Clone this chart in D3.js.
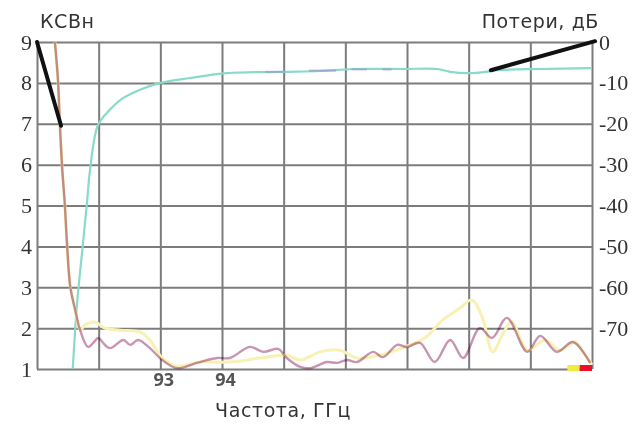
<!DOCTYPE html>
<html>
<head>
<meta charset="utf-8">
<script src="https://cdn.jsdelivr.net/npm/d3@7"></script>
<style>
  body { margin: 0; background: #fff; }
  svg { display: block; }
  .grid line { stroke: #7c7c7c; stroke-width: 2; }
  .grid path { display: none; }
  .tick-serif text { font-family: "Liberation Serif", "DejaVu Serif", serif; font-size: 22px; fill: #333; }
  .tick-x text { font-family: "Open Sans", sans-serif; font-weight: bold; font-size: 18px; fill: #555; }
  .title { font-family: "DejaVu Sans", sans-serif; font-size: 19px; letter-spacing: 0.6px; fill: #333; }
</style>
</head>
<body>
<script>
// frequency grid, GHz
const xTicks = [91, 92, 93, 94, 95, 96, 97, 98, 99, 100];
const xTickLabels = [93, 94];
const vswrTicks = [1, 2, 3, 4, 5, 6, 7, 8, 9];
const lossTicks = [0, -10, -20, -30, -40, -50, -60, -70];

// КСВн, main trace
const vswrFreq = [91.29, 91.34, 91.37, 91.41, 91.45, 91.49, 91.54, 91.62, 91.70, 91.83, 91.99, 92.02, 92.18, 92.40, 92.51, 92.64, 92.83, 93.03, 93.27, 93.59, 93.92, 94.13, 94.45, 94.67, 94.91, 95.05, 95.27, 95.43, 95.70, 95.87, 96.03, 96.19, 96.45, 96.61, 96.84, 97.00, 97.21, 97.45, 97.70, 97.91, 98.18, 98.38, 98.62, 98.95, 99.16, 99.43, 99.69, 99.97];
const vswr = [9.0, 8.07, 7.02, 5.87, 5.06, 3.98, 3.01, 2.44, 1.95, 1.54, 1.76, 1.73, 1.51, 1.71, 1.59, 1.71, 1.51, 1.22, 1.02, 1.15, 1.27, 1.27, 1.54, 1.42, 1.49, 1.27, 1.05, 1.02, 1.17, 1.15, 1.22, 1.17, 1.42, 1.29, 1.59, 1.54, 1.64, 1.17, 1.71, 1.27, 2.00, 1.76, 2.25, 1.42, 1.81, 1.42, 1.66, 1.15];

// КСВн, second (pale) trace
const vswr2Freq = [91.29, 91.34, 91.37, 91.41, 91.45, 91.49, 91.54, 91.62, 91.70, 91.78, 91.94, 92.10, 92.35, 92.67, 92.83, 93.03, 93.27, 93.64, 94.13, 94.62, 95.05, 95.27, 95.59, 95.91, 96.19, 96.56, 97.05, 97.29, 97.58, 97.86, 98.05, 98.22, 98.39, 98.56, 98.70, 98.95, 99.24, 99.48, 99.72, 99.89, 100.0];
const vswr2 = [9.0, 8.07, 7.02, 5.87, 5.06, 3.98, 3.01, 2.44, 1.95, 2.08, 2.15, 2.00, 1.95, 1.91, 1.71, 1.27, 1.07, 1.17, 1.17, 1.27, 1.34, 1.22, 1.42, 1.46, 1.27, 1.34, 1.59, 1.76, 2.20, 2.49, 2.69, 2.27, 1.42, 1.88, 2.15, 1.46, 1.71, 1.46, 1.66, 1.34, 1.10];

// Потери, дБ
const lossFreq = [91.58, 91.65, 91.73, 91.81, 91.86, 91.99, 92.18, 92.35, 92.67, 93.00, 93.48, 94.08, 94.99, 95.59, 96.12, 96.94, 97.49, 97.70, 98.02, 98.27, 98.46, 99.16, 100.0];
const loss = [-80, -63.9, -51.6, -39.4, -31.3, -20.3, -16.6, -14.2, -11.7, -10.0, -8.8, -7.6, -7.3, -7.1, -6.6, -6.6, -6.6, -7.3, -7.6, -7.3, -6.9, -6.6, -6.4];

// faint dashes riding on the loss trace
const dashRanges = [[94.70, 95.03], [95.41, 95.85], [96.10, 96.35], [96.60, 96.75]];
const dashLoss = [-7.3, -7.0, -6.7, -6.7];

// end markers on the frequency axis
const markerRanges = [[99.6, 99.8], [99.8, 100.0]];
const markerColors = ["#f2ea40", "#e8102a"];

const width = 635, height = 425;
const margin = { left: 37, right: 43, top: 42, bottom: 56 };

const svg = d3.select('body')
  .append('svg')
  .attr('width', width)
  .attr('height', height);

svg.append('rect').attr('width', width).attr('height', height).attr('fill', '#fff');

const x = d3.scaleLinear()
  .domain([91, 100])
  .range([margin.left, width - margin.right]);

const yL = d3.scaleLinear()
  .domain([1, 9])
  .range([height - margin.bottom, margin.top]);

const yR = d3.scaleLinear()
  .domain([-80, 0])
  .range([height - margin.bottom, margin.top]);

const plotH = yL.range()[0] - yL.range()[1];
const plotW = x.range()[1] - x.range()[0];

// vertical grid + x labels
svg.append('g')
  .attr('class', 'grid tick-x')
  .attr('transform', `translate(0,${yL(1)})`)
  .call(d3.axisBottom(x)
    .tickValues(xTicks)
    .tickSize(-plotH)
    .tickPadding(4)
    .tickFormat(d => xTickLabels.includes(d) ? String(d) : ''))
  .selectAll('text')
  .attr('dx', 3);

// horizontal grid + left labels
svg.append('g')
  .attr('class', 'grid tick-serif')
  .attr('transform', `translate(${x(91)},0)`)
  .call(d3.axisLeft(yL)
    .tickValues(vswrTicks)
    .tickSize(-plotW)
    .tickPadding(5)
    .tickFormat(d => String(d)));

// right labels
const rightAxis = svg.append('g')
  .attr('class', 'tick-serif')
  .attr('transform', `translate(${x(100)},0)`)
  .call(d3.axisRight(yR)
    .tickValues(lossTicks)
    .tickSize(0)
    .tickPadding(7)
    .tickFormat(d => String(d)));
rightAxis.select('.domain').remove();

const lineVswr = d3.line()
  .x((d, i) => x(vswrFreq[i]))
  .y(d => yL(d))
  .curve(d3.curveCatmullRom);

const lineVswr2 = d3.line()
  .x((d, i) => x(vswr2Freq[i]))
  .y(d => yL(d))
  .curve(d3.curveCatmullRom);

const lineLoss = d3.line()
  .x((d, i) => x(lossFreq[i]))
  .y(d => yR(d))
  .curve(d3.curveCatmullRom);

svg.append('path')
  .datum(loss)
  .attr('fill', 'none')
  .attr('stroke', '#88dac9')
  .attr('stroke-width', 2.2)
  .attr('d', lineLoss);

svg.selectAll('.dash')
  .data(dashRanges)
  .join('line')
  .attr('class', 'dash')
  .attr('x1', d => x(d[0]))
  .attr('x2', d => x(d[1]))
  .attr('y1', (d, i) => yR(dashLoss[i]))
  .attr('y2', (d, i) => yR(dashLoss[i]))
  .attr('stroke', '#9a9ad0')
  .attr('stroke-width', 2)
  .attr('opacity', 0.7);

svg.append('path')
  .datum(vswr2)
  .attr('fill', 'none')
  .attr('stroke', '#f7f2b4')
  .attr('stroke-width', 3)
  .attr('d', lineVswr2);

svg.append('path')
  .datum(vswr)
  .attr('fill', 'none')
  .attr('stroke', '#c894b2')
  .attr('stroke-width', 2.4)
  .style('mix-blend-mode', 'multiply')
  .attr('d', lineVswr);

svg.selectAll('.marker')
  .data(markerRanges)
  .join('rect')
  .attr('class', 'marker')
  .attr('x', d => x(d[0]))
  .attr('width', d => x(d[1]) - x(d[0]))
  .attr('y', yL(1) - 4)
  .attr('height', 6)
  .attr('fill', (d, i) => markerColors[i]);

// pointer strokes
svg.append('line')
  .attr('x1', x(91)).attr('y1', yL(9))
  .attr('x2', x(91.39)).attr('y2', yL(6.95))
  .attr('stroke', '#111').attr('stroke-width', 4).attr('stroke-linecap', 'round');

svg.append('line')
  .attr('x1', x(98.36)).attr('y1', yR(-6.9))
  .attr('x2', x(100.05)).attr('y2', yR(0.2))
  .attr('stroke', '#111').attr('stroke-width', 4).attr('stroke-linecap', 'round');

svg.append('text').attr('class', 'title')
  .attr('x', 40).attr('y', 28).text('КСВн');

svg.append('text').attr('class', 'title')
  .attr('x', 599).attr('y', 28).attr('text-anchor', 'end').text('Потери, дБ');

svg.append('text').attr('class', 'title')
  .attr('x', 283).attr('y', 417).attr('text-anchor', 'middle').text('Частота, ГГц');
</script>
</body>
</html>
